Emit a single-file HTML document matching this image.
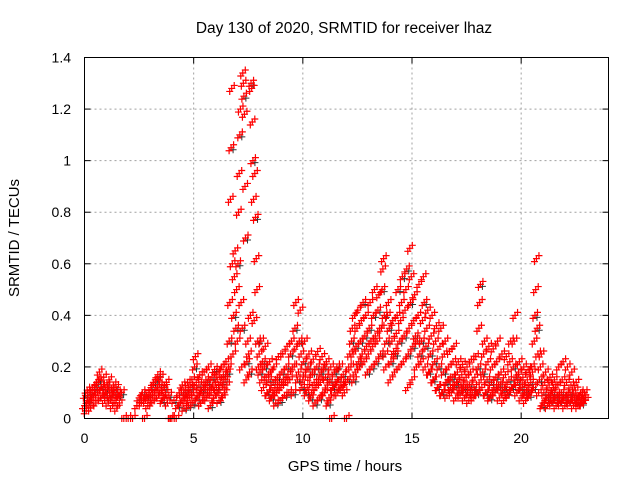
<!DOCTYPE html>
<html><head><meta charset="utf-8"><style>
body{margin:0;background:#fff}
svg{display:block;font-family:"Liberation Sans",sans-serif}
</style></head><body>
<svg id="chart" width="640" height="480">
<text x="344" y="33" font-size="15.5" text-anchor="middle" fill="#000">Day 130 of 2020, SRMTID for receiver lhaz</text>
<text x="345" y="471" font-size="15" text-anchor="middle">GPS time / hours</text>
<text transform="translate(19,238) rotate(-90)" font-size="15" text-anchor="middle">SRMTID / TECUs</text>
<g id="grid"></g>
<g id="ticks"></g>
<g id="points"></g>
<rect x="84.5" y="57.5" width="524" height="361" fill="none" stroke="#000" stroke-width="1"/>
</svg>
<script>
const xTicks=[0,5,10,15,20];
const yTicks=[0,0.2,0.4,0.6,0.8,1,1.2,1.4];
const yTickLabels=["0","0.2","0.4","0.6","0.8","1","1.2","1.4"];
const binStart=0, binStep=0.2;
const binValues=[
[.05,.09,.03,.11,.07],[.06,.1,.04,.08,.12],[.08,.12,.1,.06,.14],[.1,.15,.18,.08,.12],[.12,.09,.16,.07,.11],
[.1,.13,.06,.15,.09],[.08,.11,.05,.13,.1],[.07,.12,.04,.1,.09],[.06,.1],[0],
[0],[0],[.05,.08],[.06,.1,.08,0],[.07,.09,.05,.1],
[.08,.12,.06,.1,.14],[.1,.15,.08,.12,.17],[.09,.13,.16,.11,.07],[.08,.12,.1,.14],[.06,.09,0],
[0,.07],[0,.05,.1],[.06,.1,.13,.08,.04],[.07,.11,.09,.14,.05],[.08,.12,.1,.15,.06],
[.1,.2,.24,.14,.08],[.09,.13,.17,.06,.11],[.07,.12,.18,.1,.15],[.08,.14,.2,.11,.05],[.1,.16,.13,.08,.19],
[.09,.12,.15,.18,.07],[.11,.14,.2,.08,.17],[.1,.15,.22,.13,.18],[.2,.3,.45,.85,1.05,1.28,.6],[.25,.4,.55,.65,.35,.5],
[.3,.6,.8,.95,1.1,1.2,.45],[.2,.35,1.34,1.3,1.25,1.18,.9,.7],[.15,.22,.3,.25,.18],[.4,1.3,1.28,1.15,1.0,.85,.38],[.95,.78,.62,.5,.3,.2],
[.25,.18,.3,.15,.22],[.12,.2,.28,.16,.1],[.1,.15,.22,.18,.08],[.09,.14,.2,.12,.06],[.1,.16,.24,.13,.07],
[.12,.18,.25,.15,.09],[.14,.2,.28,.17,.1],[.15,.25,.3,.2,.1],[.2,.35,.45,.28,.15],[.18,.3,.42,.25,.12],
[.15,.22,.3,.18,.1],[.12,.2,.25,.16,.08],[.1,.18,.23,.14,.06],[.12,.2,.26,.15,.08],[.14,.18,.24,.1,.2],
[.1,.16,.22,.13,.06],[.08,.15,.2,0,.12],[.12,.18,.14,.1,.2],[.1,.15,.2,.13],[.12,.17,.1,.14],
[0,.15,.2,.25],[.2,.3,.35,.25,.15,.4],[.18,.28,.35,.42,.22],[.2,.3,.38,.25,.45],[.22,.32,.4,.28,.18],
[.25,.35,.45,.3,.2],[.28,.4,.5,.32,.22],[.3,.42,.48,.35,.25],[.35,.5,.58,.62,.4,.25],[.2,.3,.4,.45,.35],
[.15,.22,.3,.38,.26],[.18,.25,.33,.4,.5],[.2,.3,.38,.45,.55],[.22,.32,.42,.5,.58],[.12,.25,.35,.66,.45,.55],
[.15,.28,.38,.48,.32],[.2,.3,.4,.52,.25],[.22,.3,.38,.55,.45],[.2,.28,.35,.42,.18],[.18,.25,.32,.4,.15],
[.15,.22,.3,.36,.12],[.12,.2,.28,.35,.1],[.1,.18,.25,.3,.14],[.09,.15,.2,.26,.12],[.1,.16,.22,.28,.13],
[.08,.14,.18,.22,.11],[.09,.13,.17,.21,.12],[.08,.12,.16,.2,.1],[.07,.13,.18,.23,.1],[.08,.12,.16,.24,.1],
[.1,.2,.35,.45,.52,.15],[.12,.18,.25,.3,.1],[.1,.15,.22,.28,.08],[.09,.14,.2,.27,.12],[.1,.16,.22,.3,.13],
[.08,.13,.18,.25,.11],[.07,.12,.17,.24,.1],[.09,.15,.22,.3,.12],[.12,.2,.3,.4,.16],[.1,.14,.18,.22,.12],
[.08,.12,.16,.2,.1],[.07,.11,.15,.19,.09],[.1,.14,.2,.18,.12],[.3,.4,.5,.62,.35,.25],[.1,.15,.2,.25,.05],
[.06,.1,.14,.18,.08],[.05,.09,.13,.16,.07],[.06,.1,.12,.15,.08],[.05,.09,.13,.2,.07],[.06,.1,.15,.22,.08],
[.05,.09,.14,.2,.07],[.06,.1,.13,.18,.08],[.05,.08,.11,.14,.07],[.05,.07,.09,.1,.06],[.06,.08,.1,.07]
];
const NS="http://www.w3.org/2000/svg";
const X0=84.5,X1=608.5,Y0=418.5,Y1=57.5,XMAX=24,YMAX=1.4;
function xs(t){return X0+(X1-X0)*t/XMAX;}
function ys(v){return Y0-(Y0-Y1)*v/YMAX;}
function mk(tag,a,parent){const e=document.createElementNS(NS,tag);for(const k in a)e.setAttribute(k,a[k]);parent.appendChild(e);return e;}
const grid=document.getElementById('grid'),ticks=document.getElementById('ticks'),pts=document.getElementById('points');
xTicks.forEach(t=>{
  const x=xs(t);
  if(t>0){const g=mk('line',{x1:x,x2:x,y1:Y1,y2:Y0,stroke:'#a0a0a0','stroke-dasharray':'2,3'},grid);
  
  }
  mk('line',{x1:x,x2:x,y1:Y0,y2:Y0-6,stroke:'#000'},ticks);
  mk('line',{x1:x,x2:x,y1:Y1,y2:Y1+6,stroke:'#000'},ticks);
  const l=mk('text',{x:x,y:443,'font-size':14,'text-anchor':'middle'},ticks);l.textContent=t;
  
  
});
yTicks.forEach((v,i)=>{
  const y=ys(v);
  if(v>0&&v<YMAX){const g=mk('line',{x1:X0,x2:X1,y1:y,y2:y,stroke:'#a0a0a0','stroke-dasharray':'2,3'},grid);
  
  }
  mk('line',{x1:X0,x2:X0+6,y1:y,y2:y,stroke:'#000'},ticks);
  mk('line',{x1:X1,x2:X1-6,y1:y,y2:y,stroke:'#000'},ticks);
  const l=mk('text',{x:71,y:y+5,'font-size':14,'text-anchor':'end'},ticks);l.textContent=yTickLabels[i];
  
  
});
const offs=[[0,0],[2.5,-3],[-2,3]];
let d='',dk='';
binValues.forEach((vals,b)=>{
  const t0=binStart+b*binStep;
  vals.forEach((v,k)=>{
    const x=xs(t0+k*binStep/vals.length), y=ys(v);
    offs.forEach(o=>{
      const px=x+o[0], py=Math.min(Y0,y+o[1]);
      d+=`M${px-3.5},${py}h7M${px},${py-3.5}v7`;
    });
    if(k%3==1) dk+=`M${x+2-3.5},${y+2}h7M${x+2},${y-1.5}v7`;
  });
});
const pb=mk('path',{d:dk,stroke:'#333',fill:'none','stroke-width':1},pts);


const pr=mk('path',{d:d,stroke:'#ff0000',fill:'none','stroke-width':1.2},pts);


</script>
</body></html>
